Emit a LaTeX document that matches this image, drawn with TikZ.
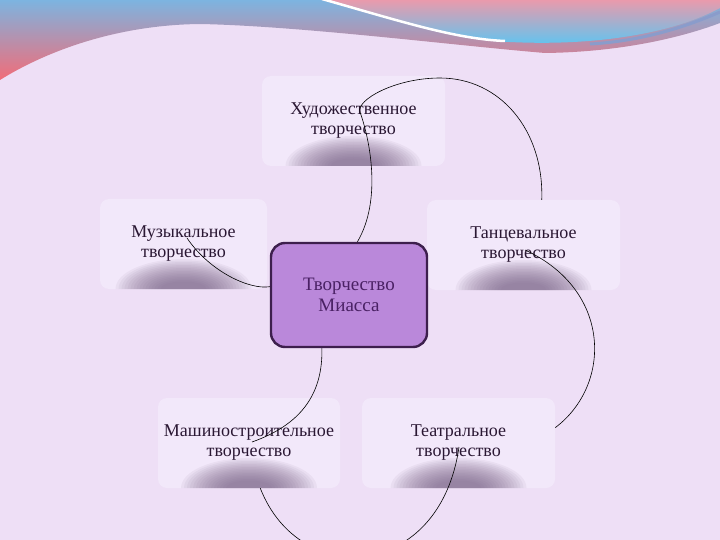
\documentclass[tikz,border=0pt]{standalone}
\usepackage{fontspec}
\setmainfont{Liberation Serif}
\definecolor{bgc}{HTML}{EEDFF6}
\definecolor{boxc}{HTML}{F2E8FA}
\definecolor{shc}{HTML}{755F82}
\definecolor{txtc}{HTML}{2A1733}
\definecolor{hubc}{HTML}{BA88DA}
\definecolor{hubline}{HTML}{3D1F4D}
\definecolor{hubtxt}{HTML}{4A2164}
\definecolor{skyc}{HTML}{7DB4E0}
\definecolor{midc}{HTML}{B9A6CC}
\definecolor{redc}{HTML}{F26C78}
\definecolor{pinkc}{HTML}{E99AAC}
\definecolor{cyanc}{HTML}{5CC6F2}
\definecolor{steelc}{HTML}{8A9CCB}
\begin{document}
\begin{tikzpicture}[x=1pt,y=-1pt,
box/.style={fill=boxc, rounded corners=9pt, minimum height=90pt, align=center, text=txtc,
  font=\fontsize{18}{20}\selectfont,
  path picture={\foreach \i in {0,...,15}
    \fill[shc, opacity=0.07] (path picture bounding box.south) ellipse ({68-3*\i} and {30-1.5*\i});}},
hub/.style={draw=hubline, line width=2.4pt, fill=hubc, rounded corners=14pt, minimum width=156pt,
  minimum height=104pt, align=center, text=hubtxt, font=\fontsize{19}{21}\selectfont},
link/.style={draw=black, line width=0.6pt},]
\clip (0,0) rectangle (720,540);
\fill[bgc] (0,0) rectangle (720,540);
% top waves
\shade[top color=skyc, middle color=midc, bottom color=redc] (0,80) .. controls (40,55) and (110,25) .. (200,24) .. controls (300,26) and (450,45) .. (545,53) .. controls (620,52) and (680,38) .. (720,23) -- (720,0) -- (0,0) -- cycle;
\shade[top color=pinkc, bottom color=cyanc] (322,0) .. controls (400,22) and (455,40) .. (510,42) .. controls (590,46) and (670,35) .. (720,8) -- (720,0) -- cycle;
\draw[steelc, line width=3pt] (590,44) .. controls (645,41) and (690,25) .. (720,12);
\draw[white, line width=2.5pt] (322,-1) .. controls (400,21) and (455,39) .. (505,41);
% boxes
\node (hud) at (353.5,121)[box, minimum width=183pt] {Художественное\\творчество};
\node (muz) at (183.5,244)[box, minimum width=167pt] {Музыкальное\\творчество};
\node (tan) at (523.5,245)[box, minimum width=193pt] {Танцевальное\\творчество};
\node (mash) at (249,443)[box, minimum width=182pt] {Машиностроительное\\творчество};
\node (teatr) at (458.5,443)[box, minimum width=193pt] {Театральное\\творчество};
\node (miass) at (349,295)[hub] {Творчество\\Миасса};
\coordinate (muz-end) at (187,238);
\coordinate (tan-start) at (525,250);
\coordinate (mash-end) at (252,442);
\coordinate (teatr-end) at (459,447);
% links
\draw[link] (miass.81) .. controls (382,200) and (370,140) .. (360,112) .. controls (356,100) and (395,78) .. (440,78) .. controls (500,78) and (544,130) .. (tan.68);
\draw[link] (miass.174) .. controls (250,290) and (210,272) .. (muz-end);
\draw[link] (tan-start) .. controls (612,290) and (612,385) .. (teatr.9);
\draw[link] (miass.243) .. controls (323,395) and (300,425) .. (mash-end);
\draw[link] (mash.284) .. controls (300,590) and (440,580) .. (teatr-end);
\end{tikzpicture}
\end{document}
